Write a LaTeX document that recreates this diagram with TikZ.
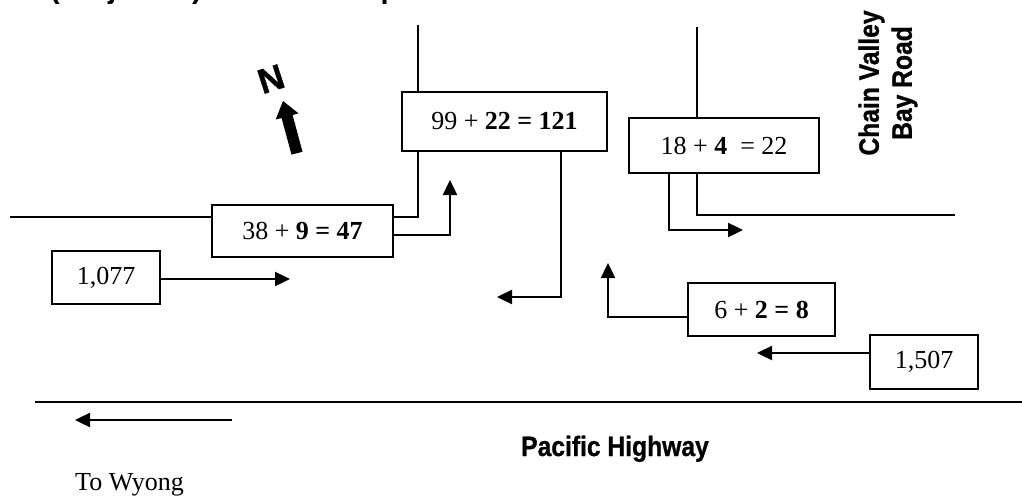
\documentclass[tikz,border=0pt]{standalone}
\usepackage{fontspec}
\setmainfont{Liberation Serif}
\setsansfont{Liberation Sans}
\newfontfamily\roadfont[FakeBold=1]{Liberation Sans Bold}
\usetikzlibrary{arrows.meta}

\begin{document}
\begin{tikzpicture}[x=1pt,y=-1pt,
  road/.style={line width=1.6pt},
  flow/.style={line width=2.4pt,-{Triangle[length=15pt,width=14pt]}},
  countbox/.style={draw,line width=1.5pt,inner sep=0pt,
    font=\fontsize{26}{30}\selectfont},
  roadname/.style={inner sep=0pt,font=\roadfont\fontsize{28}{33}\selectfont},
  heading/.style={anchor=base west,inner sep=0pt,
    font=\sffamily\bfseries\fontsize{29}{34}\selectfont},
]
\useasboundingbox (0,0) rectangle (1022,500);

% heading line, cut by the top edge
\begin{scope}
  \clip (0,0) rectangle (1022,500);
  \node[heading] (hd1) at (50,-1) {(Projected)};
  \node[heading] (hd2) at (332,-1) {Proposed};
\end{scope}

% traffic count boxes
\node[countbox,minimum width=181pt,minimum height=52pt] (b38) at (302.5,231)
  {38 + \textbf{9 = 47}\hspace{17pt}};
\node[countbox,minimum width=205pt,minimum height=59pt] (b99) at (504.5,121.5)
  {99 + \textbf{22 = 121}\hspace{16pt}};
\node[countbox,minimum width=190pt,minimum height=55pt] (b18) at (724,145.5)
  {18 + \textbf{4}\ \ = 22\hspace{16pt}};
\node[countbox,minimum width=147pt,minimum height=53pt] (b6) at (761.5,309.5)
  {6 + \textbf{2 = 8}\hspace{9pt}};
\node[countbox,minimum width=108pt,minimum height=54pt] (b1507) at (924,362)
  {1,507\hspace{6pt}};
\node[countbox,minimum width=108pt,minimum height=53pt] (b1077) at (106,277.5)
  {1,077\hspace{8pt}};

% fixed points of the roads and arrow tips
\coordinate (roadL) at (10,217);
\coordinate (j1) at (418,217);
\coordinate (t1) at (418,25);
\coordinate (t2) at (697,27);
\coordinate (r2) at (955,215);
\coordinate (hwL) at (35,402);
\coordinate (hwR) at (1022,402);
\coordinate (a1) at (450,180);
\coordinate (a2) at (497,297);
\coordinate (a3) at (608,263);
\coordinate (a4) at (757,353);
\coordinate (a5) at (290,279);
\coordinate (a6) at (743,230);
\coordinate (w1) at (232,420);
\coordinate (w2) at (75,420);

% road edges
\draw[road] (roadL) -- (roadL -| b38.west);
\draw[road] (j1 -| b38.east) -- (j1) -- (j1 |- b99.south);
\draw[road] (t1) -- (t1 |- b99.north);
\draw[road] (t2) -- (t2 |- b18.north);
\draw[road] (t2 |- b18.south) |- (r2);
\draw[road] (hwL) -- (hwR);

% turning movements
\draw[flow] (b38.east) ++(0,4) -| (a1);
\draw[flow] (b99.south) ++(56.5,0) |- (a2);
\draw[flow] (b6.west) ++(0,7.5) -| (a3);
\draw[flow] (b18.south) ++(-55,0) |- (a6);
\draw[flow] (b1507.west |- a4) -- (a4);
\draw[flow] (b1077.east |- a5) -- (a5);
\draw[flow] (w1) -- (w2);

% north point
\fill (283,101) -- (298.5,113.4) -- (292.6,115.0) -- (302.5,151.8)
  -- (291.5,154.6) -- (281.6,118.0) -- (275.7,119.5) -- cycle;
\node[inner sep=0pt,rotate=18,font=\roadfont\fontsize{35}{40}\selectfont]
  (north) at (271,79) {N};

% road names
\node[roadname,rotate=90,align=center] (cvb) at (888,83)
  {\scalebox{0.88}[1]{Chain Valley}\\\scalebox{0.88}[1]{Bay Road}};
\node[roadname,anchor=base] (pac) at (615,456)
  {\scalebox{0.88}[1]{Pacific Highway}};
\node[anchor=base west,inner sep=0pt,font=\fontsize{26}{30}\selectfont]
  (wy) at (75,490) {To Wyong};
\end{tikzpicture}
\end{document}
